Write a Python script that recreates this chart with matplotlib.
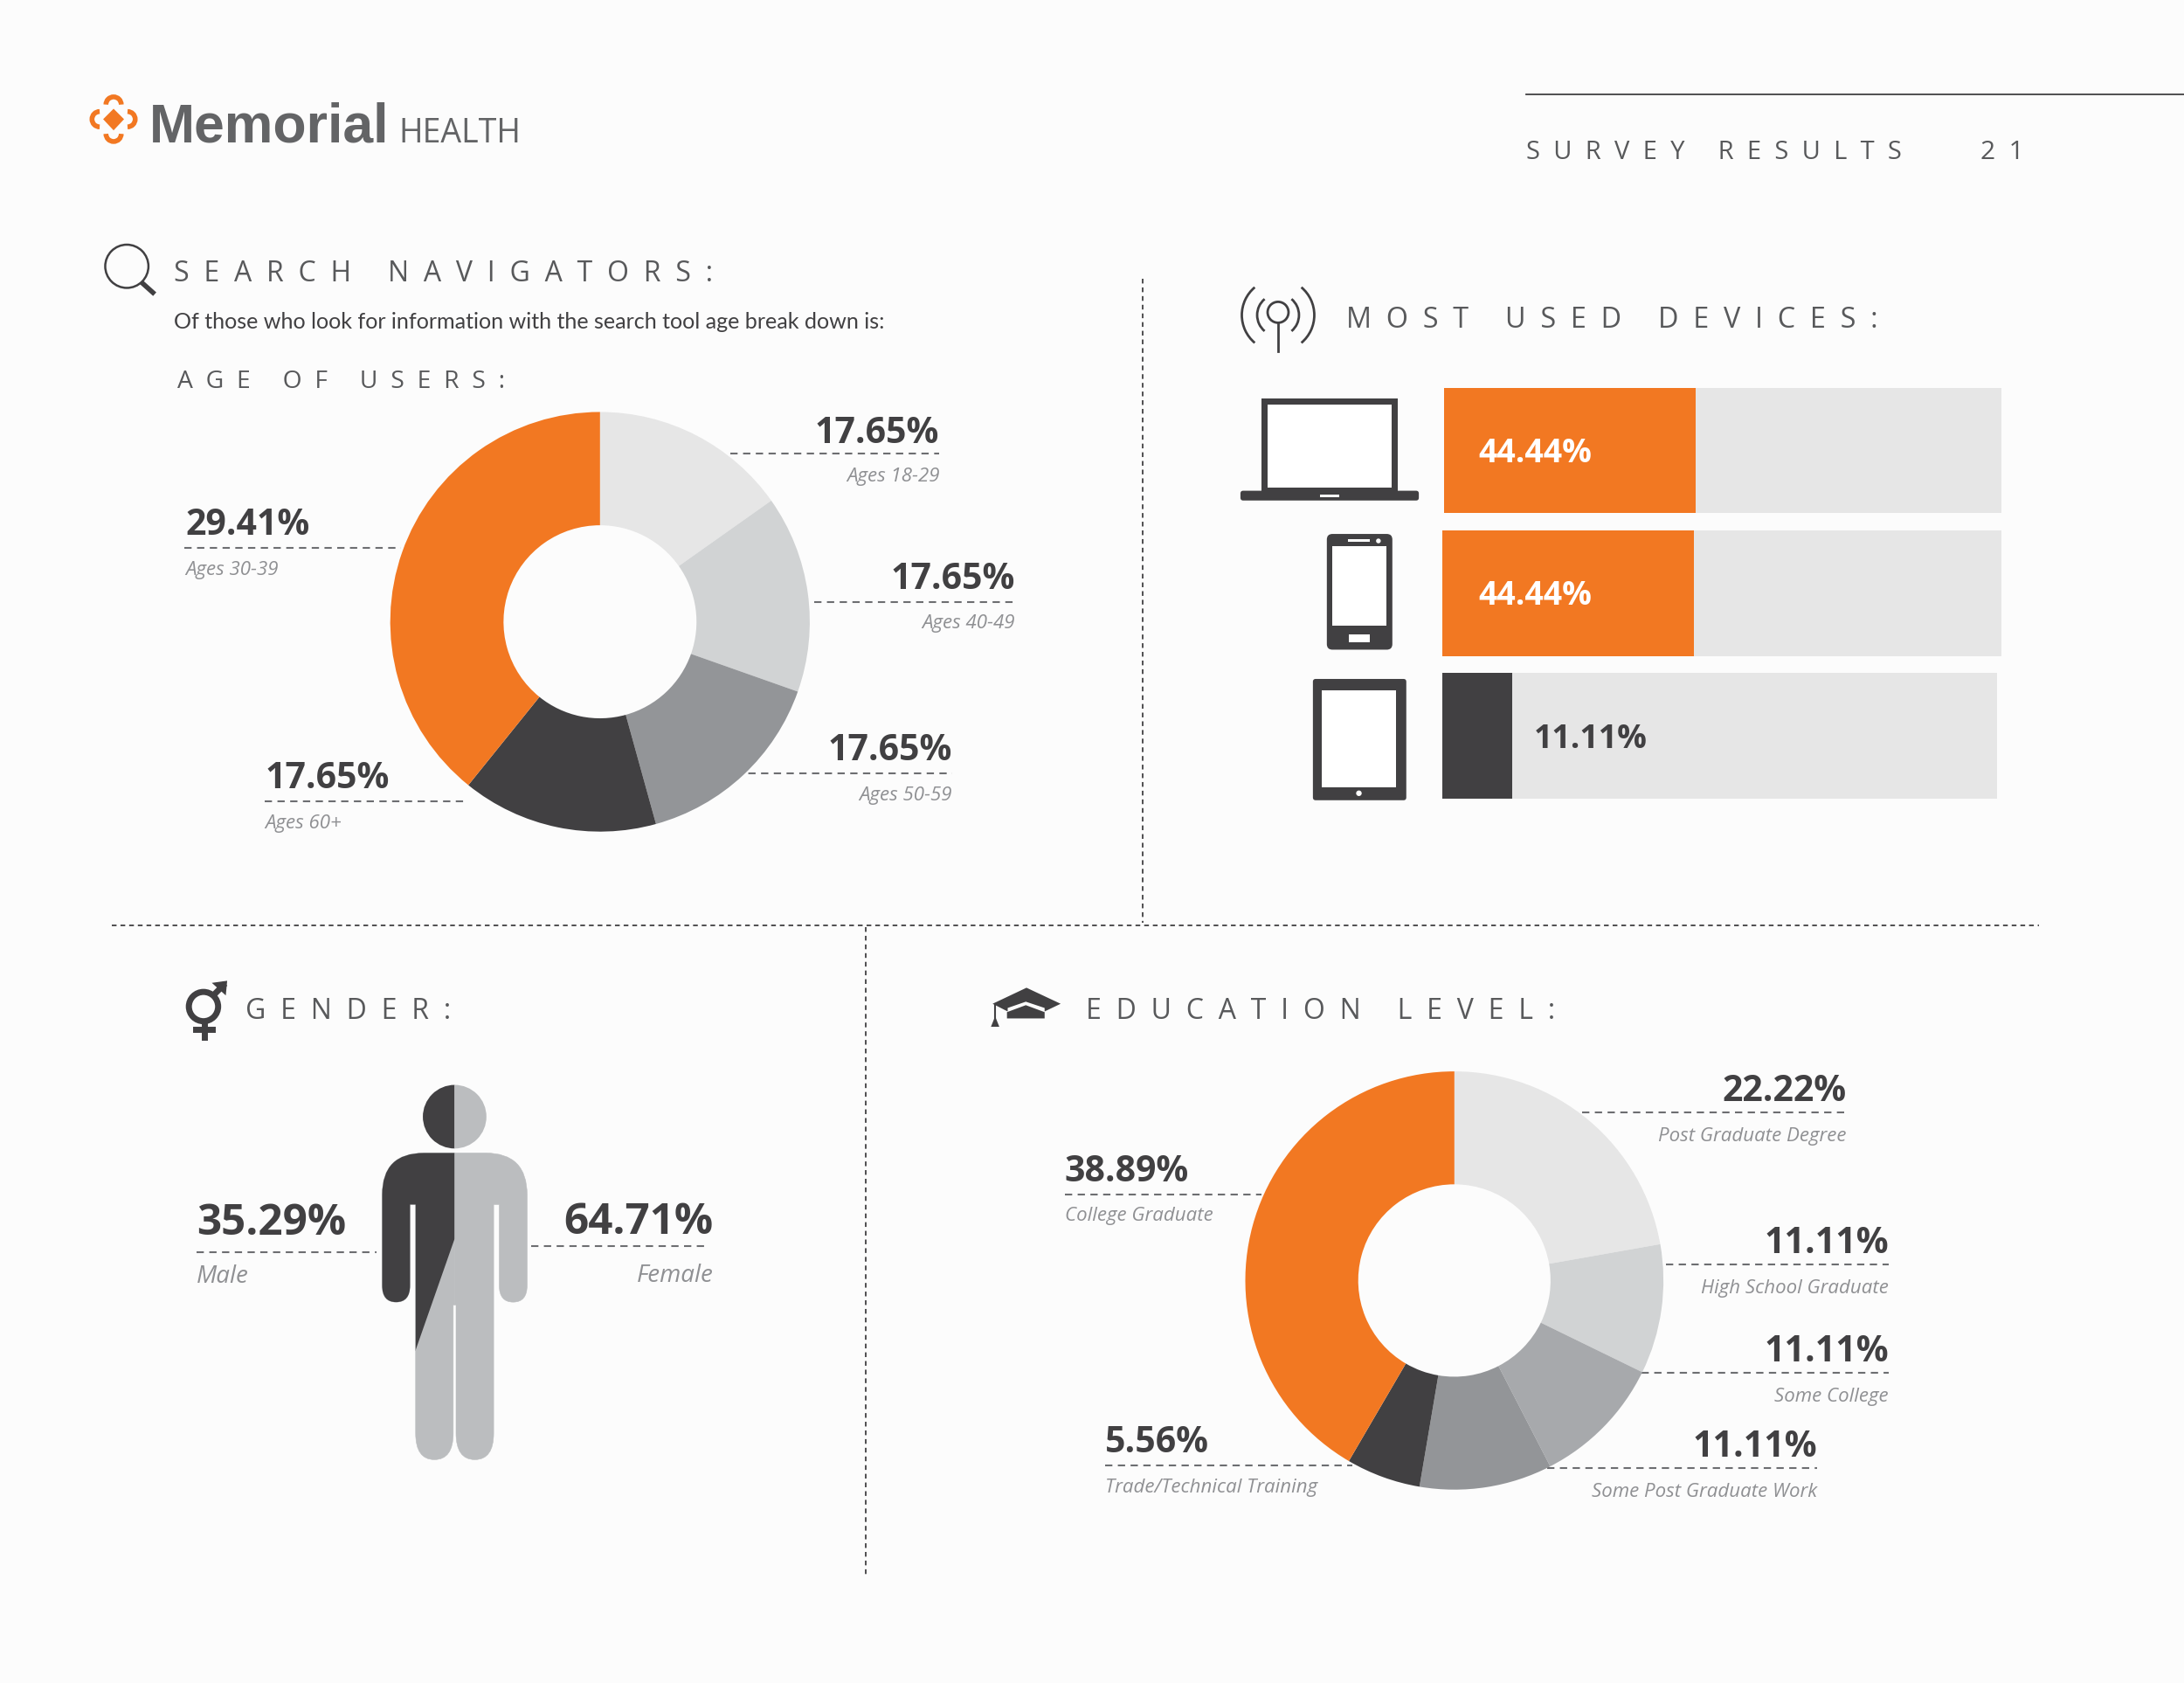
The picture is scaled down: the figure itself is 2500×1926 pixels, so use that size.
import matplotlib
matplotlib.use("Agg")
import matplotlib.pyplot as plt
from matplotlib.patches import Arc, Circle, FancyBboxPatch, PathPatch, Polygon, Rectangle, Wedge
from matplotlib.path import Path

plt.rcParams['font.family'] = ['Open Sans', 'DejaVu Sans']

# data
age_slices = [15.2, 15.2, 15.3, 15.1, 39.2]
age_pct = ['17.65%', '17.65%', '17.65%', '17.65%', '29.41%']
age_names = ['Ages 18-29', 'Ages 40-49', 'Ages 50-59', 'Ages 60+', 'Ages 30-39']

edu_slices = [22.22, 10.0, 10.2, 10.25, 5.75, 41.58]
edu_pct = ['22.22%', '11.11%', '11.11%', '11.11%', '5.56%', '38.89%']
edu_names = ['Post Graduate Degree', 'High School Graduate', 'Some College',
             'Some Post Graduate Work', 'Trade/Technical Training', 'College Graduate']

device_pct = ['44.44%', '44.44%', '11.11%']
device_fill = [45.0, 45.0, 12.5]
device_track = [99.7, 100.0, 99.2]
device_left = [0.3, 0.0, 0.0]

gender_pct = ['35.29%', '64.71%']
gender_names = ['Male', 'Female']

ORANGE = '#f27822'
DARK = '#414042'
GREY = '#58595b'
LIGHT = '#e6e6e6'
NAME_GREY = '#8f9093'
BODY_GREY = '#bbbdbf'
BG = '#fcfcfc'

W, H = 1567.0, 1207.2  # drawing units of the page

fig = plt.figure(figsize=(25, 19.26), dpi=100, facecolor=BG)
ax = fig.add_axes([0, 0, 1, 1])
ax.set_xlim(0, W)
ax.set_ylim(H, 0)
ax.axis('off')


def sub_axes(x0, y0, x1, y1):
    a = fig.add_axes([x0 / W, 1 - y1 / H, (x1 - x0) / W, (y1 - y0) / H])
    return a


def spaced(s, n=2, word=5):
    return (' ' * word).join((' ' * n).join(w) for w in s.split(' '))


def dash(x0, x1, y, color='#6d6e71', lw=1.5):
    ax.plot([x0, x1], [y, y], color=color, lw=lw, dashes=(4, 3))


def stat(pct, name, x, y, line_y, x0, x1, name_y, ha='left', size=29.5, name_size=16):
    ax.text(x, y + 2, pct, fontsize=size, fontweight='bold', color=DARK, ha=ha, va='center')
    dash(x0, x1, line_y)
    ax.text(x, name_y + 1, name, fontsize=name_size, fontstyle='italic', color=NAME_GREY, ha=ha, va='center')


def donut(cx, cy, r, values, colors):
    a = sub_axes(cx - r, cy - r, cx + r, cy + r)
    a.pie(values, colors=colors, startangle=90, counterclock=False, radius=1,
          wedgeprops=dict(width=0.54, linewidth=0))
    a.set_xlim(-1, 1)
    a.set_ylim(-1, 1)


# logo
ax.text(107, 102, 'Memorial', fontsize=45, fontweight='bold', family='Liberation Sans', color='#636466', ha='left', va='baseline')
ax.text(286, 102, 'HEALTH', fontsize=27, family='Open Sans', color='#636466', ha='left', va='baseline')
ax.add_patch(Polygon([(81.5, 78), (89, 85.5), (81.5, 93.5), (74, 85.5)], fc=ORANGE, ec='none'))
for th1, th2, c in [(180, 360, (81.5, 75)), (0, 180, (81.5, 96)), (90, 270, (71.5, 85.5)), (-90, 90, (91.5, 85.5))]:
    ax.add_patch(Arc(c, 11, 11, theta1=th1, theta2=th2, color=ORANGE, lw=4))

# header
ax.plot([1095, 1567], [68, 68], color=DARK, lw=1.3)
ax.text(1095, 114, spaced('SURVEY RESULTS', 2, 5), fontsize=21, color=GREY, ha='left', va='baseline')
ax.text(1421, 114, spaced('21', 2), fontsize=21.5, color=GREY, ha='left', va='baseline')

# section dividers
ax.plot([820, 820], [200, 662], color=DARK, lw=1.3, dashes=(3, 2.5))
ax.plot([80, 1463], [663.5, 663.5], color=DARK, lw=1.3, dashes=(3, 2.5))
ax.plot([621, 621], [665, 1130], color=DARK, lw=1.3, dashes=(3, 2.5))

# search navigators
ax.add_patch(Circle((91, 191), 15.5, fc='none', ec=DARK, lw=1.8))
ax.plot([101.5, 111], [202.5, 211], color=DARK, lw=4, solid_capstyle='butt')
ax.text(125, 202, spaced('SEARCH NAVIGATORS:'), fontsize=23, color=GREY, ha='left', va='baseline')
ax.text(125, 231, 'Of those who look for information with the search tool age break down is:',
        fontsize=18.1, family='Lato', color=DARK, ha='left', va='center')
ax.text(127, 278, spaced('AGE OF USERS:', 2, 5), fontsize=20.3, color=GREY, ha='left', va='baseline')

donut(430.5, 446, 150.5, age_slices, [LIGHT, '#d1d3d4', '#939598', DARK, ORANGE])
stat(age_pct[0], age_names[0], 674, 309, 325, 524, 674, 341, 'right')
stat(age_pct[1], age_names[1], 728, 414, 432, 584, 728, 446, 'right')
stat(age_pct[2], age_names[2], 683, 537, 555, 528, 683, 570, 'right')
stat(age_pct[3], age_names[3], 190, 557, 575, 190, 336, 590)
stat(age_pct[4], age_names[4], 133, 375, 393, 132, 288, 408)

# most used devices
cx, cy = 917, 226
ax.add_patch(Circle((cx, cy - 2), 7.5, fc='none', ec=DARK, lw=2))
ax.plot([cx, cx], [cy + 5, cy + 26], color=DARK, lw=2)
for r in (15, 26):
    ax.add_patch(Arc((cx, cy), 2 * r, 2 * r, theta1=130, theta2=230, color=DARK, lw=2))
    ax.add_patch(Arc((cx, cy), 2 * r, 2 * r, theta1=-50, theta2=50, color=DARK, lw=2))
ax.text(966, 235, spaced('MOST USED DEVICES:'), fontsize=23.3, color=GREY, ha='left', va='baseline')

bars = sub_axes(1035, 278, 1436, 573)
rows = [0, 1, 2]
bars.barh(rows, device_track, left=device_left, height=0.88, color=LIGHT)
bars.barh(rows, device_fill, left=device_left, height=0.88, color=[ORANGE, ORANGE, DARK])
bars.set_xlim(0, 100)
bars.set_ylim(2.44, -0.44)
bars.axis('off')
bars.patch.set_alpha(0)
bars.text(6.5, 0.02, device_pct[0], fontsize=27, fontweight='bold', color='white', va='center')
bars.text(6.5, 1.02, device_pct[1], fontsize=27, fontweight='bold', color='white', va='center')
bars.text(16.4, 2.02, device_pct[2], fontsize=27, fontweight='bold', color=DARK, va='center')

# laptop
ax.add_patch(Rectangle((905, 286), 98, 68, fc=DARK, ec='none'))
ax.add_patch(Rectangle((909.5, 290.5), 89, 59, fc='white', ec='none'))
ax.add_patch(FancyBboxPatch((892, 354), 124, 3, boxstyle='round,pad=2', fc=DARK, ec='none'))
ax.add_patch(Rectangle((947, 355), 14, 1.6, fc='white', ec='none'))
# phone
ax.add_patch(FancyBboxPatch((956, 387), 39, 75, boxstyle='round,pad=4', fc=DARK, ec='none'))
ax.add_patch(Rectangle((956, 392), 39, 57, fc='white', ec='none'))
ax.add_patch(Rectangle((968, 455), 15, 6, fc='white', ec='none'))
ax.add_patch(Rectangle((967, 387), 16, 1.4, fc='white', ec='none'))
ax.add_patch(Circle((989, 388), 1.7, fc='white', ec='none'))
# tablet
ax.add_patch(FancyBboxPatch((944, 489), 63, 83, boxstyle='round,pad=2', fc=DARK, ec='none'))
ax.add_patch(Rectangle((948.5, 495), 53, 70, fc='white', ec='none'))
ax.add_patch(Circle((975, 569), 2, fc='white', ec='none'))

# gender
ax.add_patch(Circle((146, 722), 10.5, fc='none', ec=DARK, lw=5))
ax.plot([146.5, 146.5], [734, 744], color=DARK, lw=5)
ax.plot([140.5, 152.5], [738.5, 738.5], color=DARK, lw=5)
ax.plot([154, 160], [713, 707], color=DARK, lw=5)
ax.add_patch(Polygon([(152, 705), (163, 703.5), (162, 714)], fc=DARK, ec='none'))
ax.text(176, 731, spaced('GENDER:'), fontsize=23, color=GREY, ha='left', va='baseline')

mid = 326.2
half = [(Path.MOVETO, 0, 827), (Path.LINETO, -22, 827), (Path.CURVE3, -52, 827), (Path.CURVE3, -52, 857),
        (Path.LINETO, -52, 922), (Path.CURVE3, -52, 934), (Path.CURVE3, -42, 934),
        (Path.CURVE3, -32, 934), (Path.CURVE3, -32, 922), (Path.LINETO, -32, 864), (Path.LINETO, -28, 864),
        (Path.LINETO, -28, 1028), (Path.CURVE3, -28, 1047), (Path.CURVE3, -14.5, 1047),
        (Path.CURVE3, -1, 1047), (Path.CURVE3, -1, 1028), (Path.LINETO, -1, 936), (Path.LINETO, 0, 936),
        (Path.CLOSEPOLY, 0, 827)]
codes = [h[0] for h in half]
left_half = Path([(mid + h[1], h[2]) for h in half], codes)
right_half = Path([(mid - h[1], h[2]) for h in half], codes)
ax.add_patch(PathPatch(right_half, fc=BODY_GREY, ec=BODY_GREY, lw=0.4))
left_patch = PathPatch(left_half, fc=BODY_GREY, ec=BODY_GREY, lw=0.4)
ax.add_patch(left_patch)
dark_part = Polygon([(mid, 820), (mid, 888.5), (298, 969), (290, 969), (260, 969), (260, 820)], fc=DARK, ec='none')
ax.add_patch(dark_part)
dark_part.set_clip_path(left_patch)
ax.add_patch(Wedge((mid, 801), 22.8, 90, 270, fc=DARK, ec='none'))
ax.add_patch(Wedge((mid, 801), 22.8, -90, 90, fc=BODY_GREY, ec='none'))

stat(gender_pct[0], gender_names[0], 141, 876, 898, 141, 270, 915, 'left', 35.5, 20)
stat(gender_pct[1], gender_names[1], 512, 875, 894, 381, 505, 914, 'right', 35.5, 20)

# education level
ax.add_patch(Polygon([(712.2, 720), (736.5, 708.5), (761, 720), (749.5, 725.5), (749.5, 723),
                      (736, 718.5), (723, 723), (723, 725.5)], fc=DARK, ec='none'))
ax.add_patch(Polygon([(722.5, 726), (736, 721), (749.5, 726), (749.5, 730.5), (722.5, 730.5)], fc=DARK, ec='none'))
ax.plot([714, 714], [720, 732], color=DARK, lw=1.5)
ax.add_patch(Polygon([(714, 729), (717, 736.5), (711, 736.5)], fc=DARK, ec='none'))
ax.text(779, 731, spaced('EDUCATION LEVEL:'), fontsize=23, color=GREY, ha='left', va='baseline')

donut(1043.5, 918.5, 150, edu_slices, [LIGHT, '#d1d3d4', '#a7a9ac', '#939598', DARK, ORANGE])
stat(edu_pct[0], edu_names[0], 1325, 781, 798, 1135, 1326, 814, 'right')
stat(edu_pct[1], edu_names[1], 1355, 890, 907, 1195, 1355, 923, 'right')
stat(edu_pct[2], edu_names[2], 1355, 968, 985, 1178, 1355, 1001, 'right')
stat(edu_pct[3], edu_names[3], 1304, 1036, 1053, 1110, 1304, 1069, 'right')
stat(edu_pct[4], edu_names[4], 793, 1033, 1051, 793, 970, 1066)
stat(edu_pct[5], edu_names[5], 764, 839, 857, 764, 905, 871)

fig.savefig('out.png', dpi=100, facecolor=BG)
